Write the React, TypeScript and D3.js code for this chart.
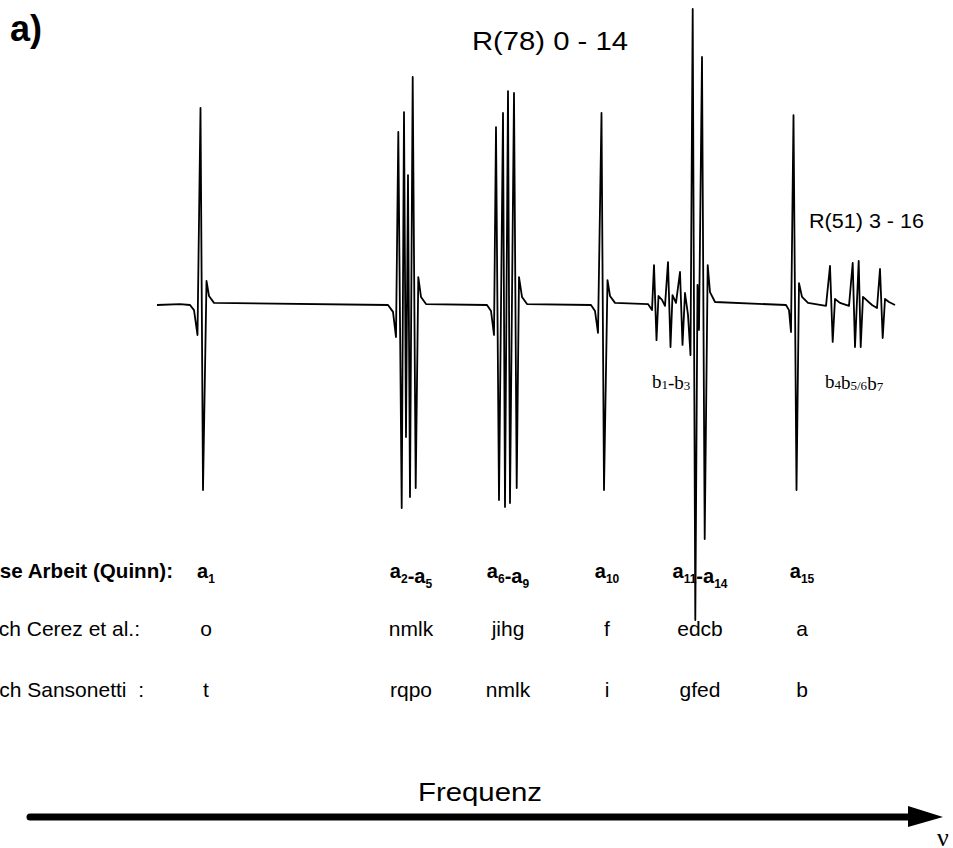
import React, { useEffect, useRef } from 'react'
import * as d3 from 'd3'

// recorder trace as [channel, signal] at every turning point
const traceStart: [number, number][] = [[7, 0], [30, 0.3]]
const traceA1: [number, number][] = [[40, 0], [44, -1.7], [47.5, -10], [50.5, 65.7], [53, -61.7], [56.5, 8], [59, 3], [64, 0.7]]
const traceA2A5: [number, number][] = [
    [238, 0], [243, -2.3], [246, -10.7], [248.3, 57.7], [251.7, -67.7], [254, 64.3], [256, -44],
    [258, 43.3], [260, -64], [262.7, 76], [265.7, -61], [268.3, 9.3], [271, 2.7], [276, 0.3]
]
const traceA6A9: [number, number][] = [
    [337, 0], [341, -2], [344, -10], [346, 59.3], [349, -65], [353, 64], [355, -67.3],
    [358, 71.3], [360, -66], [364, 70.7], [366.7, -61], [369, 9.3], [372, 2.7], [377, 0.3]
]
const traceA10: [number, number][] = [[441, 0], [445, -2], [448, -9.3], [451.5, 64], [454, -61.7], [457.5, 8.3], [460, 3], [465, 0.7]]
const traceB1A14: [number, number][] = [
    [498, 0.3], [502, -1.7], [504, 13.3], [506.5, -11.7], [508.5, 3], [512, 1.7], [515, -0.3],
    [518, 14.3], [520.5, -14], [522.5, 3.3], [526, 0.7], [530, 11], [532.5, -13.3], [535, 4],
    [538, -3.3], [540.5, -16.7], [542.7, 98.7], [545.3, -105], [547.5, 6.7], [549, -8.3],
    [552, 82.7], [554.7, -78], [557.7, 13.3], [560, 4.3], [565, 1]
]
const traceA15: [number, number][] = [[636, 0], [639, -1.7], [641, -9], [643.5, 63.3], [646.5, -61.7], [649, 7.3], [652, 2.7], [658, 0.7]]
const traceB4B7: [number, number][] = [
    [676, -0.3], [680, 13], [682.7, -12.3], [685, 2], [690, 0.7], [699, -0.3], [702.7, 14],
    [705, -14], [708.7, 14.7], [710.7, -14], [713, 2.7], [722, 0], [727, -1], [730, 12],
    [732.7, -11], [735, 2], [739, 1], [745, 0]
]

// assignment table
const rowNames = ['Diese Arbeit (Quinn):', 'nach Cerez et al.:', 'nach Sansonetti  :']
const columnNu = [56, 261, 358, 457, 550, 652]
const quinnLabels: [string, string][][] = [
    [['a', '1']],
    [['a', '2'], ['-a', '5']],
    [['a', '6'], ['-a', '9']],
    [['a', '10']],
    [['a', '11'], ['-a', '14']],
    [['a', '15']]
]
const cerezLabels = ['o', 'nmlk', 'jihg', 'f', 'edcb', 'a']
const sansonettiLabels = ['t', 'rqpo', 'nmlk', 'i', 'gfed', 'b']

const bLabels: { nu: number, parts: [string, string][] }[] = [
    { nu: 502, parts: [['b', '1'], ['-b', '3']] },
    { nu: 675, parts: [['b', '4'], ['b', '5/6'], ['b', '7']] }
]

function App() {
    const svgRef = useRef<SVGSVGElement>(null)

    useEffect(() => {
        const width = 953
        const height = 848
        const sans = 'Liberation Sans, Arial, Helvetica, sans-serif'
        const serif = 'Liberation Serif, Times New Roman, serif'

        const xScale = d3.scaleLinear().domain([0, 750]).range([150, 900])
        const yScale = d3.scaleLinear().domain([-100, 100]).range([605, 5])

        const svg = d3.select(svgRef.current)
        svg.selectAll('*').remove()
        svg.attr('width', width).attr('height', height)

        svg.append('rect').attr('width', width).attr('height', height).attr('fill', 'white')

        // panel letter and band labels
        svg.append('text').attr('x', 10).attr('y', 41)
            .attr('font-family', sans).attr('font-size', 36).attr('font-weight', 'bold')
            .text('a)')
        svg.append('text').attr('x', 472).attr('y', 50)
            .attr('font-family', sans).attr('font-size', 25)
            .attr('textLength', 156).attr('lengthAdjust', 'spacingAndGlyphs')
            .text('R(78) 0 - 14')
        svg.append('text').attr('x', 809).attr('y', 228)
            .attr('font-family', sans).attr('font-size', 20)
            .attr('textLength', 115).attr('lengthAdjust', 'spacingAndGlyphs')
            .text('R(51) 3 - 16')

        // b labels under the weak lines
        bLabels.forEach((b) => {
            const t = svg.append('text').attr('x', xScale(b.nu)).attr('y', 388)
                .attr('font-family', serif).attr('font-size', 19)
            b.parts.forEach(([m, s]) => {
                t.append('tspan').text(m)
                t.append('tspan').attr('font-size', 13).attr('dy', 1).text(s)
                t.append('tspan').attr('dy', -1).text('')
            })
        })

        // table rows
        const rowY = [578, 636, 697]
        const rowRight = [173, 140, 144]
        rowNames.forEach((name, i) => {
            svg.append('text').attr('x', rowRight[i]).attr('y', rowY[i])
                .attr('text-anchor', 'end')
                .attr('font-family', sans).attr('font-size', i === 0 ? 20.6 : 21)
                .attr('font-weight', i === 0 ? 'bold' : 'normal')
                .style('white-space', 'pre')
                .text(name)
        })

        quinnLabels.forEach((parts, i) => {
            const t = svg.append('text').attr('x', xScale(columnNu[i])).attr('y', rowY[0])
                .attr('text-anchor', 'middle')
                .attr('font-family', sans).attr('font-size', 20).attr('font-weight', 'bold')
            parts.forEach(([m, s]) => {
                t.append('tspan').text(m)
                t.append('tspan').attr('font-size', 12).attr('dy', 5).text(s)
                t.append('tspan').attr('dy', -5).text('')
            })
        })
        cerezLabels.forEach((l, i) => {
            svg.append('text').attr('x', xScale(columnNu[i])).attr('y', rowY[1])
                .attr('text-anchor', 'middle')
                .attr('font-family', sans).attr('font-size', 21)
                .text(l)
        })
        sansonettiLabels.forEach((l, i) => {
            svg.append('text').attr('x', xScale(columnNu[i])).attr('y', rowY[2])
                .attr('text-anchor', 'middle')
                .attr('font-family', sans).attr('font-size', 21)
                .text(l)
        })

        // the spectrum
        const trace = [
            ...traceStart, ...traceA1, ...traceA2A5, ...traceA6A9, ...traceA10,
            ...traceB1A14, ...traceA15, ...traceB4B7
        ]
        const line = d3.line<[number, number]>()
            .x((d) => xScale(d[0]))
            .y((d) => yScale(d[1]))
        svg.append('path')
            .attr('d', line(trace))
            .attr('fill', 'none')
            .attr('stroke', 'black')
            .attr('stroke-width', 1.8)
            .attr('stroke-linejoin', 'round')

        // frequency arrow
        svg.append('text').attr('x', 480).attr('y', 801)
            .attr('text-anchor', 'middle')
            .attr('font-family', sans).attr('font-size', 25)
            .attr('textLength', 124).attr('lengthAdjust', 'spacingAndGlyphs')
            .text('Frequenz')
        svg.append('line')
            .attr('x1', 30).attr('x2', 912).attr('y1', 817).attr('y2', 817)
            .attr('stroke', 'black').attr('stroke-width', 7).attr('stroke-linecap', 'round')
        svg.append('path')
            .attr('d', 'M908,806 L943,817 L908,827 Z')
            .attr('fill', 'black')
        svg.append('text').attr('x', 937).attr('y', 846)
            .attr('font-family', serif).attr('font-size', 26)
            .text('ν')
    }, [])

    return (
        <svg ref={svgRef} style={{ position: 'absolute', left: 0, top: 0, display: 'block' }}></svg>
    )
}

export default App
